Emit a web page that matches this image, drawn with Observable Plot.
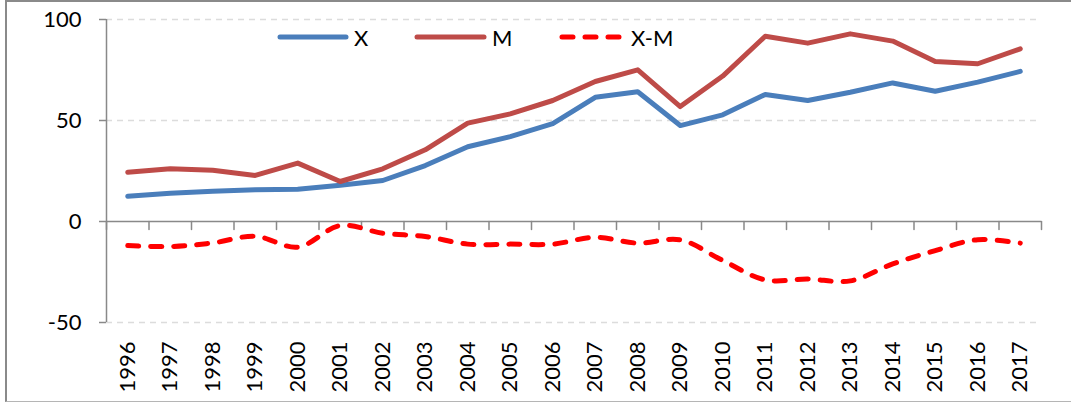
<!DOCTYPE html>
<html>
<head>
<meta charset="utf-8">
<script src="https://cdn.jsdelivr.net/npm/d3@7"></script>
<script src="https://cdn.jsdelivr.net/npm/@observablehq/plot@0.6"></script>
<style>
  body { margin: 0; background: #fff; }
  #wrap { position: relative; width: 1071px; height: 403px; overflow: hidden; font-family: Lato, "Noto Sans", sans-serif; }
  #frame { position: absolute; left: 5px; top: 0; width: 1100px; height: 402px; box-sizing: border-box;
           border-top: 2px solid #8a8a8a; border-left: 2px solid #8a8a8a; border-bottom: 1px solid #b5b5b5; pointer-events: none; }
  #legend { position: absolute; left: 0; top: 0; width: 100%; height: 60px; }
  .item { position: absolute; top: 24px; height: 26px; display: flex; align-items: center; font-size: 22px; color: #000; }
  .item svg { margin-right: 5px; }
</style>
</head>
<body>
<div id="wrap">
  <div id="chart"></div>
  <div id="legend"></div>
  <div id="frame"></div>
</div>
<script>
const years = [1996, 1997, 1998, 1999, 2000, 2001, 2002, 2003, 2004, 2005, 2006,
               2007, 2008, 2009, 2010, 2011, 2012, 2013, 2014, 2015, 2016, 2017];
const X  = [12.5, 14.0, 15.0, 15.7, 16.0, 18.0, 20.3, 27.7, 37.0, 42.0, 48.4,
            61.5, 64.2, 47.5, 52.8, 62.9, 59.9, 64.0, 68.6, 64.5, 69.0, 74.3];
const M  = [24.4, 26.1, 25.4, 22.8, 28.9, 19.8, 26.1, 35.5, 48.7, 53.3, 59.9,
            69.3, 75.1, 56.9, 72.0, 91.7, 88.3, 92.9, 89.3, 79.2, 78.1, 85.5];
const XM = [-11.9, -12.4, -10.6, -7.3, -12.7, -2.0, -5.8, -7.4, -11.2, -11.2, -11.2,
            -7.8, -10.7, -9.1, -19.3, -28.9, -28.5, -29.4, -21.0, -14.4, -9.0, -10.7];
const seriesNames = ["X", "M", "X-M"];
const yTicks = [-50, 0, 50, 100];

const colors = ["#4a7ebb", "#be4b48", "#ff0000"];
const rows = years.map((year, i) => ({year, X: X[i], M: M[i], XM: XM[i]}));
const boundaries = [years[0] - 0.5, ...years.map(y => y + 0.5)];
const axisGrey = "#898989";
const tickShape = {draw(context, length) { context.moveTo(0, 0); context.lineTo(0, -length); }};

const chart = Plot.plot({
  width: 1071,
  height: 403,
  marginLeft: 106,
  marginRight: 30,
  marginTop: 19,
  marginBottom: 81,
  style: {fontFamily: "Lato, 'Noto Sans', sans-serif", color: "#000", background: "transparent"},
  x: {type: "linear", domain: [boundaries[0], boundaries[boundaries.length - 1]]},
  y: {domain: [-50, 100]},
  marks: [
    Plot.gridY(yTicks.filter(d => d !== 0), {stroke: "#dcdcdc", strokeOpacity: 1, strokeWidth: 1.5, strokeDasharray: "6,5"}),
    Plot.ruleY([0], {stroke: axisGrey, strokeWidth: 1.5}),
    Plot.ruleX([boundaries[0]], {y1: -50, y2: 100, stroke: axisGrey, strokeWidth: 1.5}),
    Plot.vector(boundaries, {x: d => d, y: 0, length: 8, rotate: 180, anchor: "start", shape: tickShape, stroke: axisGrey, strokeWidth: 1.5}),
    Plot.line(rows, {x: "year", y: "X", stroke: colors[0], strokeWidth: 5, strokeLinejoin: "round", strokeLinecap: "round"}),
    Plot.line(rows, {x: "year", y: "M", stroke: colors[1], strokeWidth: 5, strokeLinejoin: "round", strokeLinecap: "round"}),
    Plot.line(rows, {x: "year", y: "XM", stroke: colors[2], strokeWidth: 5, curve: "catmull-rom", strokeDasharray: "11,12", strokeLinecap: "round"}),
    Plot.axisY(yTicks, {tickSize: 7, tickPadding: 18, stroke: axisGrey, strokeWidth: 1.5, fontSize: 22, tickFormat: d => String(d), label: null}),
    Plot.axisX(years, {anchor: "bottom", tickSize: 0, tickPadding: 19, tickRotate: -90, fontSize: 22, tickFormat: d => String(d), label: null})
  ]
});
document.getElementById("chart").appendChild(chart);

// Legend overlay inside the plot area
const legendPos = [277, 414, 559];
const swatchW = [72, 73, 67];
const dashes = [null, null, "11,12"];
const legend = document.getElementById("legend");
seriesNames.forEach((name, i) => {
  const item = document.createElement("div");
  item.className = "item";
  item.style.left = legendPos[i] + "px";
  const w = swatchW[i];
  item.innerHTML = `<svg width="${w}" height="10"><line x1="3" y1="5" x2="${w - 3}" y2="5" stroke="${colors[i]}" stroke-width="5" stroke-linecap="round"${dashes[i] ? ` stroke-dasharray="${dashes[i]}"` : ""}/></svg><span>${name}</span>`;
  legend.appendChild(item);
});
</script>
</body>
</html>
